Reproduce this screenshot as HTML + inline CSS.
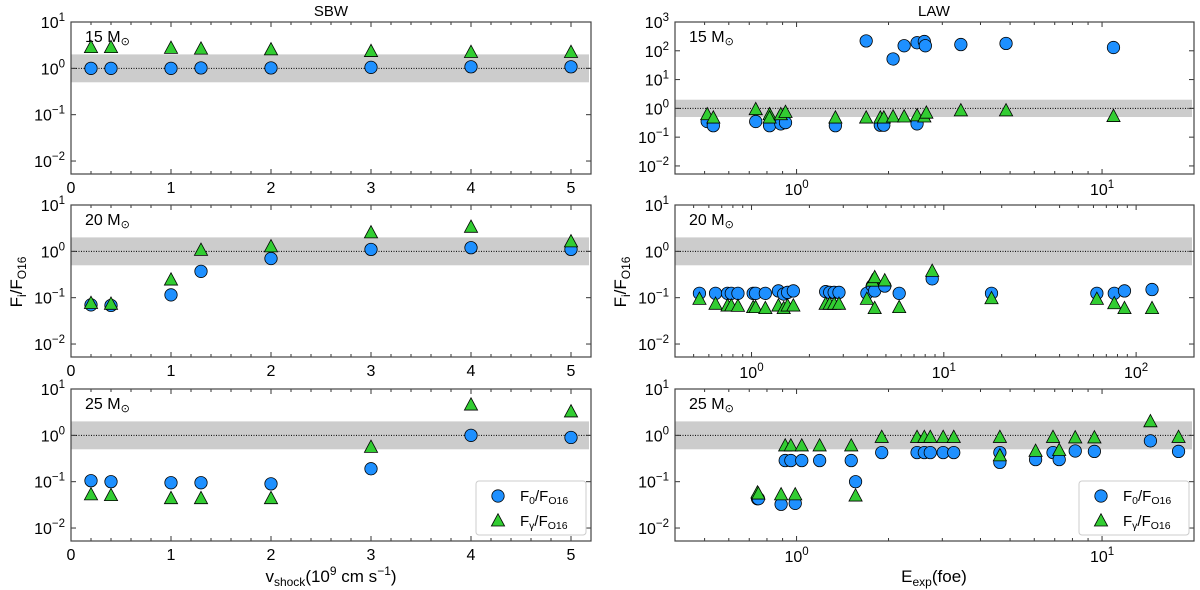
<!DOCTYPE html>
<html><head><meta charset="utf-8">
<style>
body{margin:0;background:#fff;}
svg{display:block;font-family:"Liberation Sans","DejaVu Sans",sans-serif;}
</style></head>
<body>
<svg id="fig" width="1200" height="590" viewBox="0 0 1200 590" xmlns="http://www.w3.org/2000/svg">
  <text x="331" y="16" font-size="15" text-anchor="middle">SBW</text>
  <text x="934" y="16" font-size="15" text-anchor="middle">LAW</text>
  <text transform="translate(22,282) rotate(-90)" font-size="17" text-anchor="middle">F<tspan font-size="12" dy="4">i</tspan><tspan dy="-4">/F</tspan><tspan font-size="12" dy="4">O16</tspan></text>
  <text transform="translate(626,282) rotate(-90)" font-size="17" text-anchor="middle">F<tspan font-size="12" dy="4">i</tspan><tspan dy="-4">/F</tspan><tspan font-size="12" dy="4">O16</tspan></text>
  <text x="331" y="582" font-size="17" text-anchor="middle">v<tspan font-size="12" dy="4">shock</tspan><tspan dy="-4">(10</tspan><tspan font-size="12" dy="-7">9</tspan><tspan dy="7"> cm s</tspan><tspan font-size="12" dy="-7">−1</tspan><tspan dy="7">)</tspan></text>
  <text x="934" y="582" font-size="17" text-anchor="middle">E<tspan font-size="12" dy="4">exp</tspan><tspan dy="-4">(foe)</tspan></text>
</svg>
<script>
// ---- data ----
const sbwV = [0.2,0.4,1,1.3,2,3,4,5];
const sbw15F0 = [1.0,1.0,1.0,1.02,1.02,1.05,1.08,1.08];
const sbw15Fg = [2.8,2.8,2.7,2.6,2.5,2.3,2.2,2.2];
const sbw20F0 = [0.07,0.068,0.115,0.37,0.7,1.1,1.2,1.1];
const sbw20Fg = [0.075,0.072,0.24,1.05,1.25,2.5,3.3,1.6];
const sbw25F0 = [0.105,0.1,0.095,0.095,0.09,0.19,1.0,0.9];
const sbw25Fg = [0.052,0.05,0.043,0.043,0.043,0.55,4.5,3.2];

const law15E0 = [0.51,0.534,0.735,0.816,0.888,0.92,1.34,1.69,1.88,1.93,2.07,2.25,2.48,2.62,2.64,2.48,3.45,4.85,10.9];
const law15F0 = [0.35,0.25,0.35,0.25,0.29,0.32,0.25,220,0.26,0.26,52,150,190,210,150,0.29,165,180,130];
const law15Eg = [0.51,0.534,0.735,0.816,0.816,0.888,0.92,1.34,1.69,1.88,1.93,2.07,2.25,2.48,2.62,2.66,3.45,4.85,10.9];
const law15Fg = [0.6,0.46,0.9,0.6,0.46,0.6,0.72,0.46,0.46,0.46,0.46,0.5,0.5,0.55,0.5,0.68,0.82,0.82,0.52];

const law20E0 = [0.536,0.65,0.75,0.785,0.85,1.02,1.05,1.18,1.38,1.47,1.54,1.65,2.43,2.55,2.69,2.85,3.98,4.25,4.37,4.93,5.86,8.7,17.7,62.5,77,87,121];
const law20F0 = [0.124,0.124,0.124,0.124,0.124,0.124,0.124,0.124,0.14,0.12,0.13,0.14,0.135,0.13,0.13,0.13,0.124,0.18,0.14,0.178,0.124,0.255,0.124,0.124,0.124,0.14,0.15];
const law20Eg = [0.536,0.65,0.75,0.785,0.85,1.02,1.05,1.18,1.38,1.47,1.54,1.65,2.43,2.55,2.69,2.85,3.98,4.25,4.37,4.37,4.93,5.86,8.7,17.7,62.5,77,87,121];
const law20Fg = [0.092,0.072,0.066,0.066,0.065,0.061,0.061,0.058,0.066,0.058,0.066,0.066,0.072,0.072,0.072,0.072,0.092,0.227,0.27,0.058,0.23,0.061,0.37,0.095,0.092,0.074,0.058,0.058];

const law25E = [0.745,0.75,0.89,0.918,0.958,0.99,1.04,1.19,1.51,1.56,1.90,2.48,2.62,2.74,3.02,3.27,4.63,4.63,6.06,6.91,7.24,8.17,9.44,14.4,17.8];
const law25F0 = [0.043,0.043,0.0325,0.286,0.286,0.034,0.286,0.286,0.286,0.1,0.425,0.425,0.425,0.425,0.425,0.425,0.425,0.26,0.3,0.425,0.3,0.46,0.45,0.76,0.45];
const law25Fg = [0.057,0.054,0.052,0.59,0.59,0.052,0.59,0.59,0.59,0.049,0.9,0.9,0.9,0.9,0.9,0.9,0.9,0.36,0.45,0.9,0.47,0.88,0.88,1.96,0.9];

const massLabels = ["15","20","25"];
const yTicksStd = [1,0,-1,-2];
const yTicksTop = [3,2,1,0,-1,-2];
const xTicksLin = [0,1,2,3,4,5];

// ---- drawing ----
const NS = "http://www.w3.org/2000/svg";
const svg = document.getElementById('fig');
function mk(tag, attrs, parent){
  const e = document.createElementNS(NS, tag);
  for (const k in attrs) e.setAttribute(k, attrs[k]);
  (parent||svg).appendChild(e);
  return e;
}
const rowsTop = [22,205,389];
const H = 152;
const LEFT = {x0:71,x1:591};
const RIGHT = {x0:675,x1:1194};
const R = 6.2;

function linX(p,a,b){return v => p.x0 + (v-a)/(b-a)*(p.x1-p.x0);}
function logX(p,a,b){return v => p.x0 + (Math.log10(v)-a)/(b-a)*(p.x1-p.x0);}
function logY(top,lo,hi){return v => top + H - (Math.log10(v)-lo)/(hi-lo)*H;}

function supLabel(g, x, y, exp, anchor){
  const t = mk('text',{x:x,y:y,'font-size':16,'text-anchor':anchor},g);
  const s = exp<0 ? '−'+(-exp) : ''+exp;
  t.innerHTML = '10<tspan font-size="11.5" dy="-7">'+s+'</tspan>';
  return t;
}
function tri(cx,cy,parent){
  return mk('polygon',{points:`${cx},${cy-7.3} ${cx-6.6},${cy+5} ${cx+6.6},${cy+5}`,fill:'#32cd32',stroke:'#000','stroke-width':0.8},parent);
}

function panel(name, p, top, xs, ys, yt, xcfg, series, mass, legend){
  const g = mk('g',{});
  
  
  const bot = top + H;
  const band = mk('rect',{x:p.x0, y:ys(2), width:p.x1-p.x0-2, height:ys(0.5)-ys(2), fill:'#cccccc'}, g);
  
  
  const ln = mk('line',{x1:p.x0,x2:p.x1,y1:ys(1),y2:ys(1),stroke:'#000','stroke-width':1,'stroke-dasharray':'1,1.5'}, g);
  
  
  const yg = mk('g',{},g);
  
  
  yt.forEach(e=>{
    const y = ys(Math.pow(10,e));
    mk('line',{x1:p.x0,x2:p.x0+5,y1:y,y2:y,stroke:'#333'},yg);
    mk('line',{x1:p.x1,x2:p.x1-5,y1:y,y2:y,stroke:'#333'},yg);
    supLabel(yg, p.x0-6, y+6, e, 'end');
  });
  const xg = mk('g',{},g);
  
  
  if (xcfg.type==='lin'){
    for (let v=0; v<=5.2001; v+=0.2){
      const x = xs(v); const major = Math.abs(v-Math.round(v))<1e-6;
      const L = major?5:3;
      mk('line',{x1:x,x2:x,y1:bot,y2:bot-L,stroke:'#333'},xg);
      mk('line',{x1:x,x2:x,y1:top,y2:top+L,stroke:'#333'},xg);
    }
    xTicksLin.forEach(v=>{
      const t = mk('text',{x:xs(v),y:bot+19,'font-size':16,'text-anchor':'middle'},xg);
      t.textContent = v;
    });
  } else {
    for (let d=xcfg.dlo; d<=xcfg.dhi; d++){
      for (let m=1;m<10;m++){
        const v = m*Math.pow(10,d);
        if (v<xcfg.min||v>xcfg.max) continue;
        const x = xs(v); const L = m===1?5:3;
        mk('line',{x1:x,x2:x,y1:bot,y2:bot-L,stroke:'#333'},xg);
        mk('line',{x1:x,x2:x,y1:top,y2:top+L,stroke:'#333'},xg);
        if (m===1) supLabel(xg, x, bot+21, d, 'middle');
      }
    }
  }
  const fr = mk('rect',{x:p.x0,y:top,width:p.x1-p.x0,height:H,fill:'none',stroke:'#444','stroke-width':1.2},g);
  
  
  const ml = mk('text',{x:p.x0+14,y:top+20,'font-size':16},g);
  ml.innerHTML = mass+' M<tspan font-size="11" dy="3">⊙</tspan>';
  
  
  series.forEach(s=>{
    const sg = mk('g',{},g);
    
    
    s.x.forEach((xv,i)=>{
      const cx = xs(xv), cy = ys(s.y[i]);
      let m;
      if (s.kind==='c') m = mk('circle',{cx:cx,cy:cy,r:R,fill:'#1e90ff',stroke:'#000','stroke-width':0.8},sg);
      else m = tri(cx,cy,sg);
      
      
    });
  });
  if (legend){
    const lx = p.x1-115, ly = bot-60;
    const lg = mk('g',{},g);
    
    
    mk('rect',{x:lx,y:ly,width:110,height:54,rx:3,fill:'#fff','fill-opacity':0.85,stroke:'#ccc'},lg);
    mk('circle',{cx:lx+22,cy:ly+15,r:R,fill:'#1e90ff',stroke:'#000','stroke-width':0.8},lg);
    const t1 = mk('text',{x:lx+44,y:ly+20,'font-size':15},lg);
    t1.innerHTML = 'F<tspan font-size="10.5" dy="3">0</tspan><tspan dy="-3">/F</tspan><tspan font-size="10.5" dy="3">O16</tspan>';
    
    
    tri(lx+22, ly+40, lg);
    const t2 = mk('text',{x:lx+44,y:ly+45,'font-size':15},lg);
    t2.innerHTML = 'F<tspan font-size="10.5" dy="3">γ</tspan><tspan dy="-3">/F</tspan><tspan font-size="10.5" dy="3">O16</tspan>';
    
    
  }
}

const YLO = -2.28;
const lxs = linX(LEFT,0,5.2);
const sbwF0 = [sbw15F0,sbw20F0,sbw25F0];
const sbwFg = [sbw15Fg,sbw20Fg,sbw25Fg];
for (let r=0;r<3;r++){
  const ys = logY(rowsTop[r],YLO,1);
  panel('sbw-panel-'+massLabels[r], LEFT, rowsTop[r], lxs, ys, yTicksStd, {type:'lin'},
    [{name:'series-f0',kind:'c',x:sbwV,y:sbwF0[r]},{name:'series-fgamma',kind:'t',x:sbwV,y:sbwFg[r]}],
    massLabels[r], r===2);
}
const lmin = Math.log10(0.4);
panel('law-panel-15', RIGHT, rowsTop[0], logX(RIGHT,lmin,Math.log10(20)), logY(rowsTop[0],YLO,3), yTicksTop,
  {type:'log',dlo:-1,dhi:1,min:0.4,max:20},
  [{name:'series-f0',kind:'c',x:law15E0,y:law15F0},{name:'series-fgamma',kind:'t',x:law15Eg,y:law15Fg}], '15', false);
panel('law-panel-20', RIGHT, rowsTop[1], logX(RIGHT,lmin,Math.log10(200)), logY(rowsTop[1],YLO,1), yTicksStd,
  {type:'log',dlo:-1,dhi:2,min:0.4,max:200},
  [{name:'series-f0',kind:'c',x:law20E0,y:law20F0},{name:'series-fgamma',kind:'t',x:law20Eg,y:law20Fg}], '20', false);
panel('law-panel-25', RIGHT, rowsTop[2], logX(RIGHT,lmin,Math.log10(20)), logY(rowsTop[2],YLO,1), yTicksStd,
  {type:'log',dlo:-1,dhi:1,min:0.4,max:20},
  [{name:'series-f0',kind:'c',x:law25E,y:law25F0},{name:'series-fgamma',kind:'t',x:law25E,y:law25Fg}], '25', true);
</script>
</body></html>
